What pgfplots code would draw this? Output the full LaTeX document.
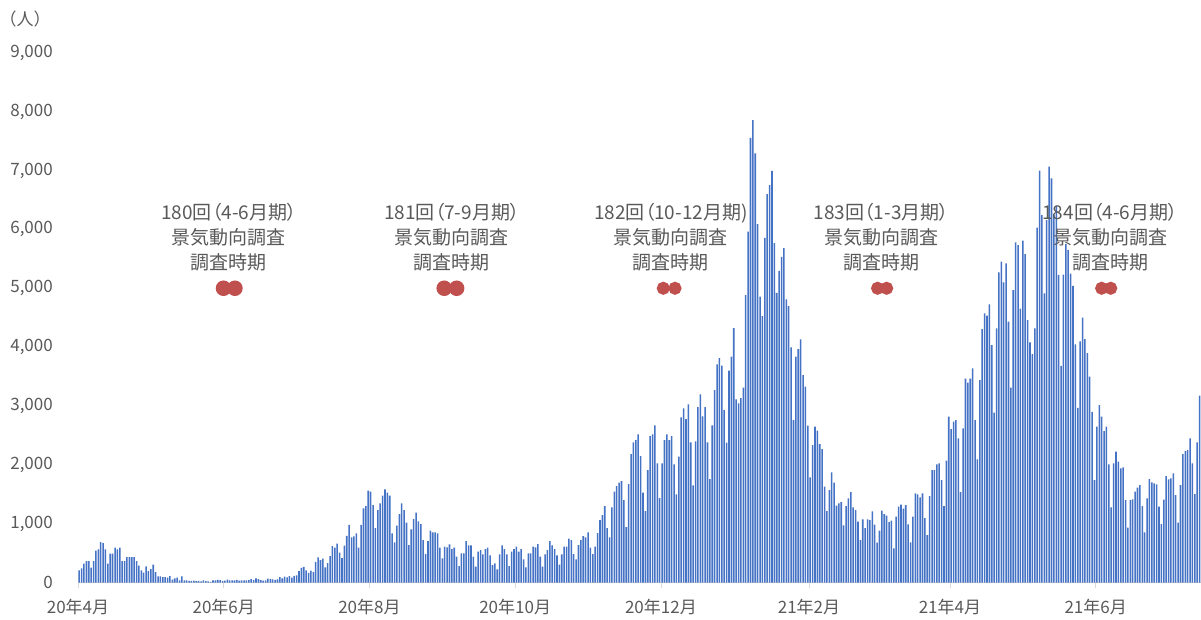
\documentclass[border=0pt]{standalone}
\usepackage{pgfplots}
\usepackage{pgfplotstable}
\pgfplotsset{compat=1.18}
\usepackage{fontspec}
\setmainfont{Noto Sans CJK JP}
\newfontfamily\annfont[RawFeature=+palt]{Noto Sans CJK JP}
\definecolor{barblue}{HTML}{4472C4}
\definecolor{dotred}{HTML}{C0504D}
\definecolor{txtgray}{HTML}{595959}
\definecolor{axgray}{HTML}{D9D9D9}

% daily new cases, 2020-04-01 ... 2021-07-14 (one row per day)
\pgfplotstableread[row sep=\\]{
cases\\
209\\243\\322\\368\\368\\255\\368\\543\\566\\690\\673\\566\\322\\492\\492\\594\\566\\594\\368\\368\\436\\436\\436\\436\\368\\290\\209\\170\\277\\198\\
232\\305\\181\\107\\107\\96\\96\\85\\110\\51\\74\\85\\40\\107\\40\\40\\29\\31\\34\\25\\33\\21\\39\\25\\21\\14\\38\\40\\47\\43\\30\\
36\\51\\41\\40\\39\\47\\35\\38\\38\\40\\42\\61\\44\\72\\59\\44\\36\\41\\68\\67\\56\\49\\58\\96\\75\\105\\92\\111\\86\\118\\
125\\195\\250\\270\\208\\165\\207\\178\\355\\430\\385\\408\\261\\333\\450\\623\\594\\664\\509\\419\\631\\795\\981\\770\\785\\837\\596\\982\\1264\\1301\\1562\\
1545\\1319\\928\\1234\\1347\\1477\\1585\\1528\\1477\\838\\685\\968\\1166\\1347\\1234\\1019\\640\\906\\1081\\1189\\1041\\996\\724\\487\\707\\883\\855\\855\\838\\594\\413\\
611\\600\\651\\572\\594\\441\\283\\498\\498\\707\\634\\634\\441\\272\\526\\555\\481\\572\\594\\464\\300\\328\\226\\481\\634\\572\\481\\283\\526\\572\\
611\\526\\572\\396\\260\\498\\498\\611\\600\\656\\441\\272\\481\\555\\707\\634\\572\\464\\306\\481\\611\\611\\747\\724\\487\\396\\640\\724\\792\\770\\855\\
594\\487\\613\\841\\1064\\1149\\1302\\928\\770\\1279\\1545\\1641\\1698\\1726\\1404\\945\\1675\\2185\\2383\\2422\\2519\\2151\\1528\\1217\\1913\\2490\\2519\\2672\\2026\\1438\\
2026\\2422\\2519\\2422\\2490\\2009\\1500\\2139\\2807\\2960\\2779\\3028\\2383\\1653\\2400\\2983\\3198\\2824\\2983\\2383\\1760\\2672\\3271\\3707\\3815\\3685\\2932\\2377\\3600\\3838\\4324\\
3113\\3045\\3136\\3311\\4885\\5960\\7555\\7855\\7290\\6090\\4856\\4528\\5857\\6600\\6750\\6995\\5767\\4923\\5297\\5535\\5683\\4811\\4698\\3996\\2762\\3837\\3968\\4132\\3526\\3328\\2666\\
1789\\2338\\2649\\2581\\2355\\2270\\1630\\1217\\1573\\1873\\1698\\1307\\1347\\1370\\974\\1302\\1432\\1540\\1279\\1234\\1036\\724\\1075\\928\\1075\\1064\\1211\\985\\
679\\883\\1223\\1166\\1138\\1030\\1053\\583\\1121\\1290\\1324\\1256\\1319\\990\\685\\1121\\1517\\1500\\1449\\1517\\1098\\809\\1472\\1913\\1913\\2009\\2026\\1743\\1302\\2072\\2819\\
2609\\2734\\2762\\2451\\1540\\2621\\3464\\3396\\3464\\3640\\2762\\2094\\3441\\4307\\4573\\4534\\4726\\4036\\2887\\4319\\5270\\5451\\5100\\5422\\4432\\3311\\4970\\5779\\5734\\4653\\
5807\\5581\\4460\\4081\\3883\\4319\\6028\\6996\\6243\\4913\\6158\\7064\\6866\\6250\\6400\\5229\\3680\\5232\\5750\\5650\\5250\\5042\\4047\\2968\\4100\\4500\\4137\\3900\\3500\\2900\\1743\\
2649\\3017\\2819\\2575\\2649\\2009\\1279\\2026\\2224\\2054\\1941\\1958\\1404\\934\\1404\\1415\\1545\\1613\\1658\\1302\\855\\1432\\1760\\1704\\1687\\1670\\1290\\996\\1410\\1811\\
1755\\1772\\1856\\1489\\1019\\1658\\2185\\2236\\2253\\2451\\2026\\1506\\2383\\3175\\
}\casesdata

\begin{document}
\begin{tikzpicture}
\begin{axis}[
  at={(78pt,36.3pt)}, anchor=south west,
  scale only axis, width=1122.8pt, height=530pt,
  xmin=-0.5, xmax=469.5, ymin=0, ymax=9000,
  axis lines*=left,
  x axis line style={draw=axgray, line width=0.8pt, -},
  y axis line style={draw=none},
  ytick={0,1000,2000,3000,4000,5000,6000,7000,8000,9000},
  yticklabels={0,{1,000},{2,000},{3,000},{4,000},{5,000},{6,000},{7,000},{8,000},{9,000}},
  xtick={-0.5,60.5,121.5,182.5,243.5,305.5,364.5,425.5},
  xticklabels={20年4月,20年6月,20年8月,20年10月,20年12月,21年2月,21年4月,21年6月},
  ytick style={draw=none},
  xtick style={draw=axgray, line width=0.8pt},
  tick align=outside, major tick length=5pt,
  ticklabel style={font=\fontsize{17pt}{20pt}\selectfont, text=txtgray},
  yticklabel style={anchor=east, inner sep=0pt, xshift=-20pt},
  xticklabel style={anchor=center, inner sep=0pt, yshift=-19pt},
  clip=false,
]
\addplot[ybar, bar width=1.55pt, fill=barblue, draw=none] table[x expr=\coordindex, y=cases] {\casesdata};

\addplot[dotred, line width=3.5pt, mark=*, mark size=6pt, mark options={fill=dotred, draw=none}] coordinates {(60.4,5000) (65.2,5000)};
\addplot[dotred, line width=3.5pt, mark=*, mark size=6pt, mark options={fill=dotred, draw=none}] coordinates {(152.8,5000) (158.0,5000)};
\addplot[dotred, line width=3pt, mark=*, mark size=5pt, mark options={fill=dotred, draw=none}] coordinates {(244.5,5000) (249.4,5000)};
\addplot[dotred, line width=3pt, mark=*, mark size=5pt, mark options={fill=dotred, draw=none}] coordinates {(334.2,5000) (338.0,5000)};
\addplot[dotred, line width=3pt, mark=*, mark size=5pt, mark options={fill=dotred, draw=none}] coordinates {(428.0,5000) (431.8,5000)};

\tikzset{ann/.style={align=center, text=txtgray, inner sep=0pt, font=\annfont\fontsize{19pt}{25pt}\selectfont}}
\node[ann] at (axis cs:62.7,5874) {180回（4-6月期）\\景気動向調査\\調査時期};
\node[ann] at (axis cs:156,5874) {181回（7-9月期）\\景気動向調査\\調査時期};
\node[ann] at (axis cs:247.7,5874) {182回（10-12月期)\\景気動向調査\\調査時期};
\node[ann] at (axis cs:335.8,5874) {183回（1-3月期）\\景気動向調査\\調査時期};
\node[ann] at (axis cs:431.5,5874) {184回（4-6月期）\\景気動向調査\\調査時期};
\end{axis}
\node[text=txtgray, inner sep=0pt, font=\fontsize{17pt}{20pt}\selectfont] at (25pt,600pt) {（人）};
\pgfresetboundingbox
\path[use as bounding box] (0,0) rectangle (1201pt,619pt);
\end{tikzpicture}
\end{document}
